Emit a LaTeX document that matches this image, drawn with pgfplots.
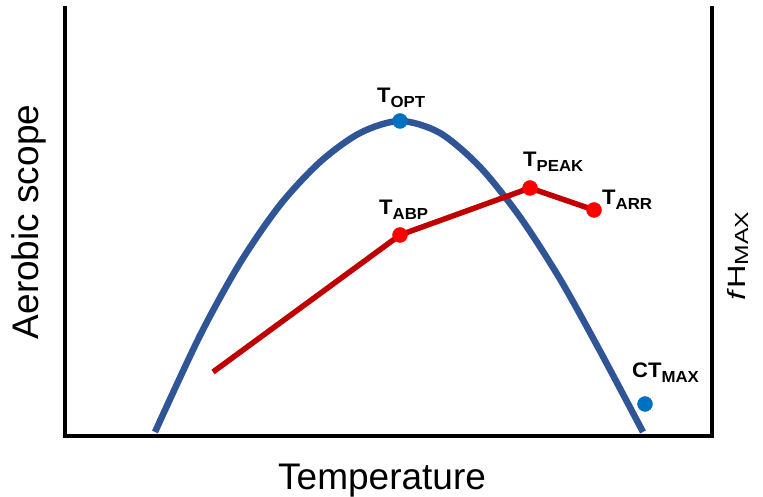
\documentclass[border=0pt]{standalone}
\usepackage{pgfplots}
\pgfplotsset{compat=1.18}
\usepackage{fontspec}
\setmainfont{Liberation Sans}

\definecolor{curveblue}{RGB}{47,85,151}
\definecolor{dotblue}{RGB}{0,112,192}
\definecolor{linered}{RGB}{192,0,0}
\definecolor{dotred}{RGB}{255,0,0}

% point labels: large T with a lowered subscript
\newcommand{\tlab}[2]{\scalebox{1.05}[1]{\bfseries\fontsize{21bp}{21bp}\selectfont #1\raisebox{-5bp}{\fontsize{16bp}{16bp}\selectfont #2}}}

\begin{document}
\begin{tikzpicture}
\useasboundingbox (0,0) rectangle (763bp,497bp);
\begin{axis}[
  at={(65bp,61bp)}, anchor=south west,
  scale only axis, width=647bp, height=428bp,
  xmin=0, xmax=647, ymin=0, ymax=428,
  axis x line*=bottom, axis y line*=box,
  axis line style={line width=4bp, line cap=rect},
  xtick=\empty, ytick=\empty,
  clip=false,
  xlabel={Temperature},
  ylabel={Aerobic scope},
  every axis x label/.style={at={(axis description cs:0.49,0)}, anchor=base, yshift=-53bp,
    font=\fontsize{37bp}{37bp}\selectfont},
  every axis y label/.style={at={(axis description cs:-0.041,0.5)}, anchor=base, rotate=90,
    font=\fontsize{37bp}{37bp}\selectfont},
]
% aerobic scope curve
\addplot[curveblue, line width=6.5bp, smooth, line cap=butt] coordinates {
  (90,4) (135,100.5) (175,173) (215,231) (255,274) (295,303) (335,315)
  (375,303) (415,269) (455,219) (495,157) (535,85) (578,4)
};
% heart-rate thresholds
\addplot[linered, line width=5.5bp, line join=round] coordinates {
  (148,64) (335,201) (465,248) (529,226)
};
\addplot[only marks, mark=*, mark size=7.5bp, dotred, mark options={draw=dotred, fill=dotred}] coordinates {
  (335,201) (465,248) (529,226)
};
\addplot[only marks, mark=*, mark size=7.5bp, dotblue, mark options={draw=dotblue, fill=dotblue}] coordinates {
  (335,315) (580,32)
};

\node[anchor=base west, inner sep=0] at (axis cs:312,333) {\tlab{T}{OPT}};
\node[anchor=base west, inner sep=0] at (axis cs:314,221) {\tlab{T}{ABP}};
\node[anchor=base west, inner sep=0] at (axis cs:458,269) {\tlab{T}{PEAK}};
\node[anchor=base west, inner sep=0] at (axis cs:537,231) {\tlab{T}{ARR}};
\node[anchor=base west, inner sep=0] at (axis cs:567,58) {\tlab{CT}{MAX}};

\node[anchor=base, rotate=90, inner sep=0] at (axis cs:680,180)
  {\scalebox{1.3}[1]{\fontsize{25bp}{25bp}\selectfont\textit{f}H\raisebox{-3bp}{\fontsize{19bp}{19bp}\selectfont MAX}}};
\end{axis}
\end{tikzpicture}
\end{document}
